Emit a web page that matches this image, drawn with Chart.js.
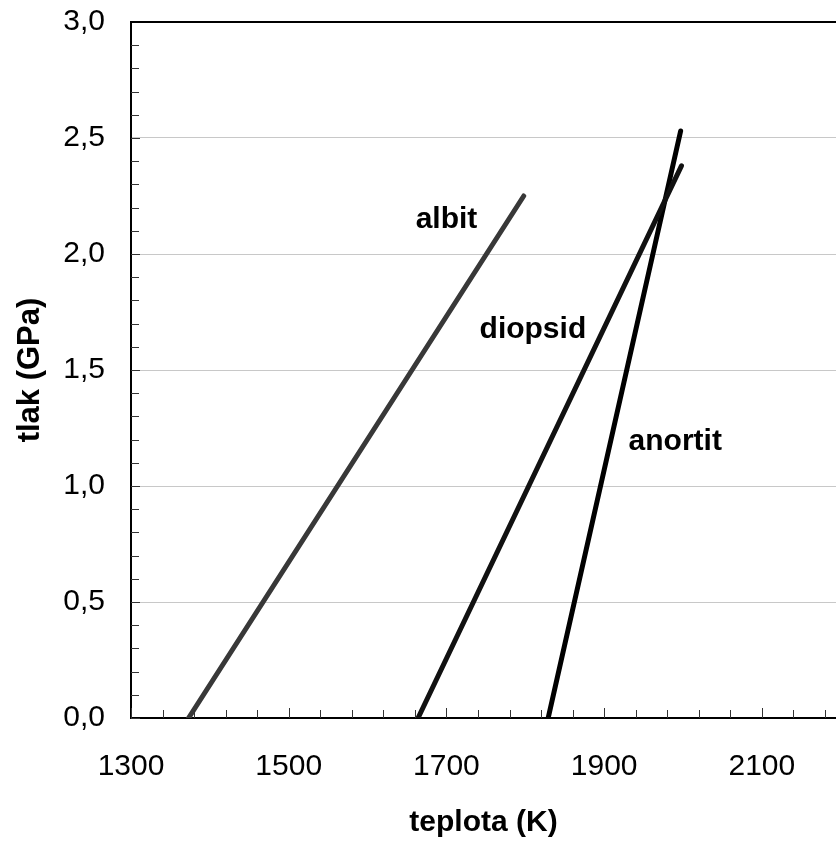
<!DOCTYPE html>
<html>
<head>
<meta charset="utf-8">
<script src="https://cdn.jsdelivr.net/npm/chart.js@4/dist/chart.umd.min.js"></script>
<style>
  html, body { margin: 0; padding: 0; background: #fff; overflow: hidden; }
  #wrap { width: 836px; height: 845px; }
</style>
</head>
<body>
<div id="wrap"><canvas id="meltChart" width="836" height="845"></canvas></div>
<script>
// melting curves: temperature (K) vs pressure (GPa), two end points each
const albitT = [1373, 1798];
const albitP = [0, 2.25];
const diopsidT = [1664, 1998];
const diopsidP = [0, 2.38];
const anortitT = [1829, 1997];
const anortitP = [0, 2.53];

// in-plot names, anchored at (T, P) of the text's left baseline
const curveNames = ['albit', 'diopsid', 'anortit'];
const nameT = [1661, 1742, 1931];
const nameP = [2.11, 1.64, 1.155];

const xMajor = [1300, 1500, 1700, 1900, 2100];
const xMinor = [1340, 1380, 1420, 1460, 1540, 1580, 1620, 1660, 1740, 1780, 1820, 1860,
                1940, 1980, 2020, 2060, 2140, 2180];
const yMajor = [0, 0.5, 1, 1.5, 2, 2.5, 3];
const yMinor = [0.1, 0.2, 0.3, 0.4, 0.6, 0.7, 0.8, 0.9, 1.1, 1.2, 1.3, 1.4, 1.6, 1.7, 1.8, 1.9,
                2.1, 2.2, 2.3, 2.4, 2.6, 2.7, 2.8, 2.9];

const toPoints = (t, p) => t.map((v, i) => ({ x: v, y: p[i] }));

// inward tick marks, top frame line and curve names
const decorPlugin = {
  id: 'decor',
  afterDraw(chart) {
    const { ctx, chartArea: a, scales: { x, y } } = chart;
    ctx.save();
    ctx.strokeStyle = '#333';
    ctx.lineWidth = 1;
    ctx.beginPath();
    xMinor.forEach(v => {
      const px = Math.round(x.getPixelForValue(v)) + 0.5;
      ctx.moveTo(px, a.bottom); ctx.lineTo(px, a.bottom - 8);
    });
    xMajor.forEach(v => {
      const px = Math.round(x.getPixelForValue(v)) + 0.5;
      ctx.moveTo(px, a.bottom); ctx.lineTo(px, a.bottom - 10);
    });
    yMinor.forEach(v => {
      const py = Math.round(y.getPixelForValue(v)) + 0.5;
      ctx.moveTo(a.left, py); ctx.lineTo(a.left + 8, py);
    });
    yMajor.forEach(v => {
      const py = Math.round(y.getPixelForValue(v)) + 0.5;
      ctx.moveTo(a.left, py); ctx.lineTo(a.left + 9, py);
    });
    ctx.stroke();

    ctx.strokeStyle = '#000';
    ctx.lineWidth = 2;
    ctx.beginPath();
    ctx.moveTo(a.left - 1, a.top);
    ctx.lineTo(a.right + 2, a.top);
    ctx.stroke();

    ctx.fillStyle = '#000';
    ctx.font = 'bold 30px "Liberation Sans", Arial, sans-serif';
    ctx.textAlign = 'left';
    ctx.textBaseline = 'alphabetic';
    curveNames.forEach((name, i) => {
      ctx.fillText(name, x.getPixelForValue(nameT[i]), y.getPixelForValue(nameP[i]));
    });
    ctx.restore();
  }
};

const font = { family: '"Liberation Sans", Arial, sans-serif' };

new Chart(document.getElementById('meltChart').getContext('2d'), {
  type: 'scatter',
  data: {
    datasets: [
      { label: 'albit', data: toPoints(albitT, albitP), borderColor: '#383838' },
      { label: 'diopsid', data: toPoints(diopsidT, diopsidP), borderColor: '#111' },
      { label: 'anortit', data: toPoints(anortitT, anortitP), borderColor: '#000' }
    ].map(d => ({
      ...d,
      showLine: true,
      borderWidth: 5,
      borderCapStyle: 'round',
      pointRadius: 0,
      pointHoverRadius: 0
    }))
  },
  options: {
    responsive: false,
    animation: false,
    events: [],
    layout: { padding: { top: 22, right: 0, bottom: 0, left: 0 } },
    plugins: { legend: { display: false }, tooltip: { enabled: false } },
    scales: {
      x: {
        type: 'linear',
        min: 1300,
        max: 2194,
        afterBuildTicks: s => { s.ticks = xMajor.map(v => ({ value: v })); },
        afterFit: s => { s.height = 127; s.paddingLeft = 0; s.paddingRight = 0; },
        grid: { display: false, drawTicks: false },
        border: { display: true, color: '#000', width: 2 },
        ticks: { color: '#000', padding: 31, font: { ...font, size: 30 }, callback: v => String(v) },
        title: {
          display: true,
          text: 'teplota (K)',
          color: '#000',
          padding: { top: 0, bottom: 4 },
          font: { ...font, size: 30, weight: 'bold' }
        }
      },
      y: {
        type: 'linear',
        min: 0,
        max: 3,
        afterBuildTicks: s => { s.ticks = yMajor.map(v => ({ value: v })); },
        afterFit: s => { s.width = 131; s.paddingTop = 0; s.paddingBottom = 0; },
        grid: { color: '#c8c8c8', lineWidth: 1, drawTicks: false },
        border: { display: true, color: '#000', width: 2 },
        ticks: {
          color: '#000',
          padding: 26,
          font: { ...font, size: 30 },
          callback: v => v.toFixed(1).replace('.', ',')
        },
        title: {
          display: true,
          text: 'tlak (GPa)',
          color: '#000',
          padding: { top: 12, bottom: 0 },
          font: { ...font, size: 31, weight: 'bold' }
        }
      }
    }
  },
  plugins: [decorPlugin]
});
</script>
</body>
</html>
